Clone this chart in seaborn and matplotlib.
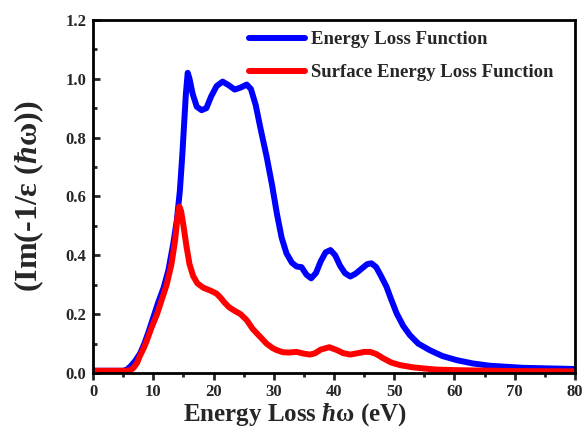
import numpy as np
import pandas as pd
import matplotlib
matplotlib.use('Agg')
import matplotlib.pyplot as plt
import seaborn as sns
from matplotlib.ticker import MultipleLocator

# energy loss function
elf_x = [0, 5, 5.6, 6.3, 7, 7.8, 8.5, 9.2, 10, 10.8, 11.7, 12.5, 13.3, 13.9, 14.4,
         14.8, 15.4, 15.7, 16.0, 16.5, 17.2, 18.0, 18.8, 19.6, 20.5, 21.5, 22.5, 23.5,
         24.5, 25.5, 26.2, 27, 27.8, 28.8, 29.7, 30.5, 31.3, 32.1, 33, 33.8, 34.6,
         35.4, 36.2, 37, 37.8, 38.6, 39.4, 40.2, 41, 41.8, 42.7, 43.6, 44.6, 45.5,
         46.2, 47, 47.8, 48.7, 49.5, 50.4, 51.5, 52.6, 54, 55.9, 58, 60.4, 63, 65.9,
         71.4, 80]
elf_y = [0.008, 0.008, 0.012, 0.025, 0.042, 0.067, 0.1, 0.14, 0.19, 0.24, 0.29, 0.35,
         0.44, 0.52, 0.62, 0.74, 0.95, 1.02, 1.0, 0.95, 0.905, 0.893, 0.9, 0.94, 0.975,
         0.99, 0.978, 0.963, 0.97, 0.98, 0.965, 0.91, 0.83, 0.736, 0.64, 0.543, 0.46,
         0.407, 0.375, 0.362, 0.36, 0.335, 0.322, 0.34, 0.38, 0.41, 0.418, 0.4, 0.365,
         0.34, 0.328, 0.338, 0.355, 0.37, 0.373, 0.36, 0.33, 0.294, 0.25, 0.203, 0.16,
         0.129, 0.1, 0.078, 0.058, 0.044, 0.033, 0.025, 0.018, 0.014]

# surface energy loss function
self_x = [0, 5.5, 6.2, 6.7, 7.3, 7.8, 8.4, 8.9, 9.7, 10.6, 11.4, 12.2, 13, 13.6, 14.0,
          14.3, 14.6, 15.0, 15.5, 16.0, 16.6, 17.3, 18.3, 19.5, 20.5, 21.2, 21.8, 22.5,
          23.3, 24.5, 25.5, 26.5, 27.7, 28.8, 29.8, 30.5, 31.5, 32.5, 33.8, 35, 36,
          36.8, 37.8, 39.2, 40.5, 41.5, 42.7, 44, 45, 46, 47, 48.2, 49.5, 51, 53, 54.8,
          57, 60.4, 70, 80]
self_y = [0.008, 0.008, 0.01, 0.018, 0.035, 0.06, 0.085, 0.11, 0.155, 0.2, 0.25, 0.3,
          0.37, 0.45, 0.53, 0.566, 0.55, 0.5, 0.43, 0.37, 0.33, 0.305, 0.29, 0.28,
          0.27, 0.255, 0.24, 0.225, 0.214, 0.2, 0.18, 0.15, 0.124, 0.1, 0.085, 0.078,
          0.071, 0.07, 0.072, 0.066, 0.063, 0.067, 0.08, 0.088, 0.078, 0.068, 0.063,
          0.068, 0.072, 0.072, 0.065, 0.05, 0.036, 0.027, 0.02, 0.016, 0.012, 0.01,
          0.007, 0.006]

labels = ['Energy Loss Function', 'Surface Energy Loss Function']

df = pd.concat([
    pd.DataFrame({'E': elf_x, 'val': elf_y, 'curve': labels[0]}),
    pd.DataFrame({'E': self_x, 'val': self_y, 'curve': labels[1]}),
])

sns.set_style('ticks')
plt.rcParams['font.family'] = ['Liberation Serif', 'DejaVu Serif']
plt.rcParams['font.weight'] = 'bold'
plt.rcParams['mathtext.fontset'] = 'custom'
plt.rcParams['mathtext.it'] = 'Liberation Serif:italic'
plt.rcParams['mathtext.rm'] = 'Liberation Serif:bold'

fig = plt.figure(figsize=(5.86, 4.4), dpi=100)
ax = fig.add_axes([0.159, 0.152, 0.822, 0.803])

sns.lineplot(data=df, x='E', y='val', hue='curve', sort=False,
             palette={labels[0]: '#0000ff', labels[1]: '#ff0000'},
             linewidth=4.3, ax=ax)

ax.set_xlim(0, 80)
ax.set_ylim(0, 1.2)
ax.xaxis.set_major_locator(MultipleLocator(10))
ax.xaxis.set_minor_locator(MultipleLocator(5))
ax.yaxis.set_minor_locator(MultipleLocator(0.1))
ax.set_yticks(np.arange(0, 1.21, 0.2))
ax.set_yticklabels([f'{v:.1f}' for v in np.arange(0, 1.21, 0.2)])

for s in ax.spines.values():
    s.set_linewidth(2)
    s.set_color('black')
ax.tick_params(axis='x', which='both', direction='out', width=2, labelsize=12, pad=3)
ax.tick_params(axis='y', which='both', direction='in', width=2, labelsize=12, pad=5)
ax.tick_params(which='major', length=5)
ax.tick_params(which='minor', length=3)
for lab in ax.get_xticklabels() + ax.get_yticklabels():
    lab.set_fontweight('bold')

ax.set_xlabel('Energy Loss $\\hbar$\u03c9 (eV)', fontsize=18, fontweight='bold')
ax.xaxis.set_label_coords(0.42, -0.08)
ax.set_ylabel('(Im(-1/\u03b5 ($\\hbar$\u03c9))', fontsize=23, fontweight='bold', labelpad=14)

leg = ax.legend(loc='upper left', bbox_to_anchor=(0.3, 1.0), frameon=False,
                handlelength=3.0, handletextpad=0.3, labelspacing=0.85,
                borderaxespad=0.2, prop={'weight': 'bold', 'size': 13.5})
for line in leg.get_lines():
    line.set_linewidth(4.3)

fig.savefig('out.png', dpi=100)
